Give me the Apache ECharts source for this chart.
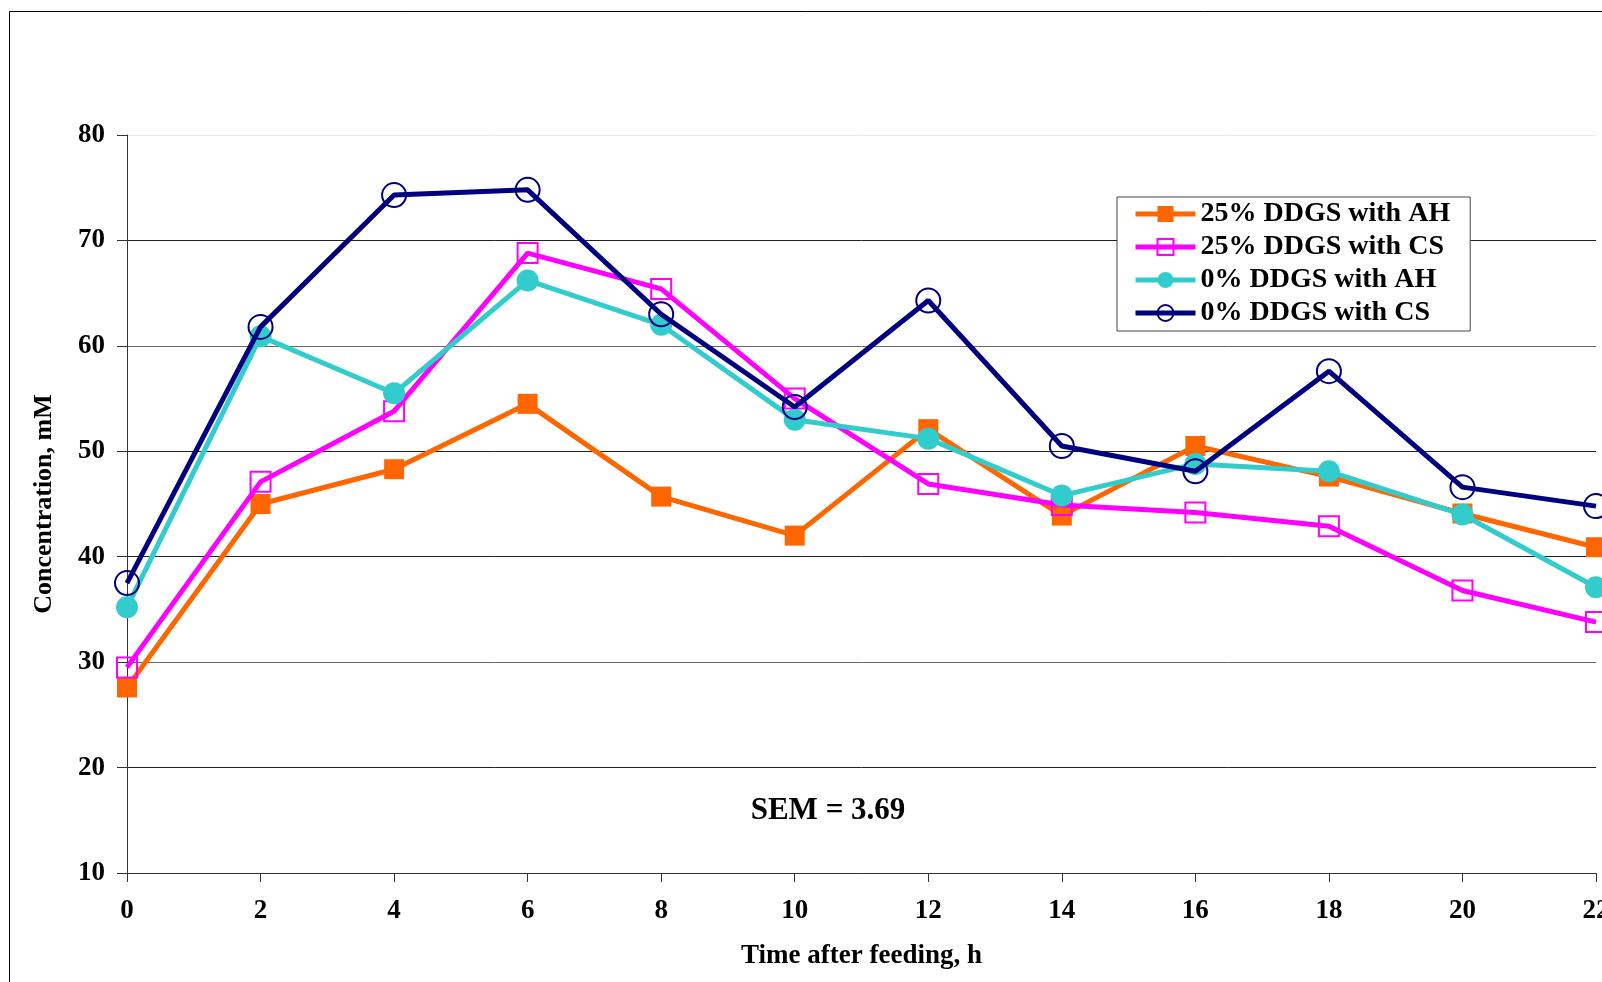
<!DOCTYPE html>
<html>
<head>
<meta charset="utf-8">
<script src="https://cdn.jsdelivr.net/npm/echarts@6/dist/echarts.min.js"></script>
<style>
html,body{margin:0;padding:0;background:#fff;}
#chart{width:1602px;height:982px;}
</style>
</head>
<body>
<div id="chart"></div>
<script>
const hours = [0, 2, 4, 6, 8, 10, 12, 14, 16, 18, 20, 22];
const seriesNames = ['25% DDGS with AH', '25% DDGS with CS', '0% DDGS with AH', '0% DDGS with CS'];
const ddgs25AH = [27.6, 45.0, 48.3, 54.5, 45.7, 42.0, 52.1, 43.9, 50.5, 47.6, 44.1, 40.9];
const ddgs25CS = [29.5, 47.1, 53.8, 68.8, 65.4, 55.0, 46.9, 44.9, 44.2, 42.9, 36.8, 33.8];
const ddgs0AH  = [35.2, 60.9, 55.5, 66.2, 62.0, 53.0, 51.2, 45.8, 48.8, 48.1, 44.0, 37.1];
const ddgs0CS  = [37.5, 61.8, 74.3, 74.8, 63.0, 54.2, 64.3, 50.5, 48.1, 57.6, 46.6, 44.8];
const annotation = 'SEM = 3.69';
const xAxisTitle = 'Time after feeding, h';
const yAxisTitle = 'Concentration, mM';

const FONT = '"Liberation Serif", "Times New Roman", serif';
const pairs = v => hours.map((h, i) => [h, v[i]]);

const chart = echarts.init(document.getElementById('chart'), null, {renderer: 'canvas'});
chart.setOption({
  backgroundColor: '#ffffff',
  animation: false,
  grid: {left: 127, right: 6, top: 135, bottom: 109, containLabel: false, outerBoundsMode: 'none'},
  legend: {
    orient: 'vertical',
    left: 1117, top: 197,
    padding: [3, 20, 4, 16],
    itemGap: 5,
    itemWidth: 60, itemHeight: 20,
    borderColor: '#444', borderWidth: 1,
    backgroundColor: '#fff',
    lineStyle: {width: 5},
    textStyle: {fontFamily: FONT, fontWeight: 'bold', fontSize: 28, color: '#000'},
    data: seriesNames
  },
  xAxis: {
    type: 'value', min: 0, max: 22, interval: 2,
    name: xAxisTitle, nameLocation: 'middle', nameGap: 70,
    nameTextStyle: {fontFamily: FONT, fontWeight: 'bold', fontSize: 27, color: '#000'},
    axisLine: {show: true, lineStyle: {color: '#333', width: 1}},
    axisTick: {show: true, inside: false, length: 9, lineStyle: {color: '#333'}},
    axisLabel: {fontFamily: FONT, fontWeight: 'bold', fontSize: 27, color: '#000', margin: 25},
    splitLine: {show: false}
  },
  yAxis: {
    type: 'value', min: 10, max: 80, interval: 10,
    name: yAxisTitle, nameLocation: 'middle', nameGap: 70, nameRotate: 90,
    nameTextStyle: {fontFamily: FONT, fontWeight: 'bold', fontSize: 26, color: '#000'},
    axisLine: {show: true, lineStyle: {color: '#333', width: 1}},
    axisTick: {show: true, inside: false, length: 10, lineStyle: {color: '#333'}},
    axisLabel: {fontFamily: FONT, fontWeight: 'bold', fontSize: 27, color: '#000', margin: 22},
    splitLine: {show: true, lineStyle: {color: ['#222', '#222', '#666', '#222', '#222', '#666', '#222', '#e8e8e8'], width: 1}}
  },
  graphic: [
    {type: 'rect', shape: {x: 9.5, y: 11.5, width: 1800, height: 1200},
     style: {fill: 'none', stroke: '#000', lineWidth: 1}, z: -1, silent: true},
    {type: 'text', x: 828, y: 811,
     style: {text: annotation, fontFamily: FONT, fontWeight: 'bold', fontSize: 31, fill: '#000',
             textAlign: 'center', textVerticalAlign: 'middle'}}
  ],
  series: [
    {name: seriesNames[0], type: 'line', data: pairs(ddgs25AH), symbol: 'rect', symbolSize: 20,
     lineStyle: {color: '#FF6600', width: 5}, itemStyle: {color: '#FF6600'}, z: 2},
    {name: seriesNames[1], type: 'line', data: pairs(ddgs25CS), symbol: 'rect', symbolSize: 20,
     lineStyle: {color: '#FF00FF', width: 5},
     itemStyle: {color: 'rgba(255,255,255,0)', borderColor: '#FF00FF', borderWidth: 2}, z: 3},
    {name: seriesNames[2], type: 'line', data: pairs(ddgs0AH), symbol: 'circle', symbolSize: 22,
     lineStyle: {color: '#33CCCC', width: 5}, itemStyle: {color: '#33CCCC'}, z: 4},
    {name: seriesNames[3], type: 'line', data: pairs(ddgs0CS), symbol: 'circle', symbolSize: 24,
     lineStyle: {color: '#000080', width: 5},
     itemStyle: {color: 'rgba(255,255,255,0)', borderColor: '#000080', borderWidth: 2}, z: 5}
  ]
});
</script>
</body>
</html>
